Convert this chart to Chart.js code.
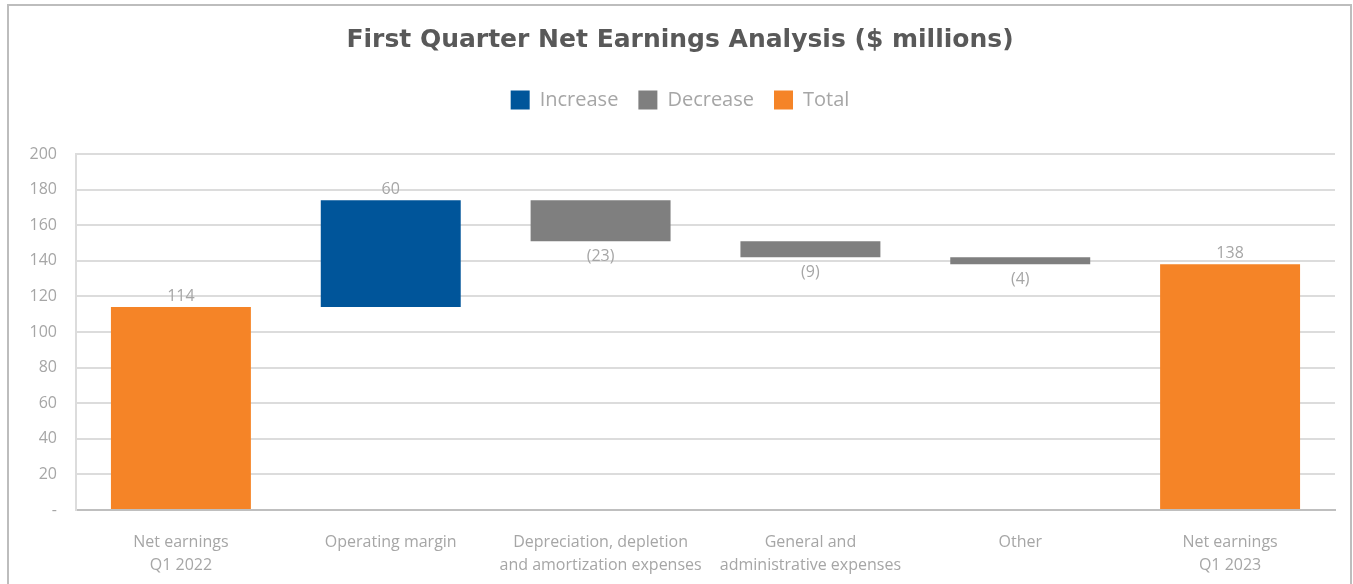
<!DOCTYPE html>
<html>
<head>
<meta charset="utf-8">
<script src="https://cdn.jsdelivr.net/npm/chart.js@4.4.1/dist/chart.umd.min.js"></script>
<style>
  html, body { margin: 0; padding: 0; background: #ffffff; overflow: hidden; }
  #wrap { position: relative; width: 1353px; height: 584px; }
  #frame { position: absolute; left: 7px; top: 4px; right: 1px; bottom: -10px;
           border: 2px solid #bdbdbd; pointer-events: none; }
  canvas { position: absolute; left: 0; top: 0; }
</style>
</head>
<body>
<div id="wrap">
  <canvas id="c" width="1353" height="584"></canvas>
  <div id="frame"></div>
</div>
<script>
// ---- data ----
const categories = [
  ["Net earnings", "Q1 2022"],
  ["Operating margin"],
  ["Depreciation, depletion", "and amortization expenses"],
  ["General and", "administrative expenses"],
  ["Other"],
  ["Net earnings", "Q1 2023"]
];
const changes = [114, 60, -23, -9, -4, 138];
const kinds = ["total", "increase", "decrease", "decrease", "decrease", "total"];
const yTicks = [0, 20, 40, 60, 80, 100, 120, 140, 160, 180, 200];
const seriesNames = ["Increase", "Decrease", "Total"];
const seriesColors = ["#00559a", "#7f7f7f", "#f58427"];

// ---- build floating ranges ----
const ranges = [];
let running = 0;
changes.forEach((v, i) => {
  if (kinds[i] === "total") { ranges.push([0, v]); running = v; }
  else { ranges.push([running, running + v]); running += v; }
});
const kindKey = { increase: 0, decrease: 1, total: 2 };
const datasets = seriesNames.map((name, s) => ({
  label: name,
  data: ranges.map((r, i) => kindKey[kinds[i]] === s ? r : null),
  backgroundColor: seriesColors[s],
  borderWidth: 0,
  grouped: false,
  categoryPercentage: 0.667,
  barPercentage: 1
}));

const FONT = "'Open Sans', 'Liberation Sans', sans-serif";
const LABEL_COLOR = "#a6a6a6";

const legendMargin = {
  id: "legendMargin",
  beforeInit(chart) {
    const orig = chart.legend.fit;
    chart.legend.fit = function () { orig.bind(chart.legend)(); this.height += 34; };
  }
};

const valueLabels = {
  id: "valueLabels",
  afterDatasetsDraw(chart) {
    const ctx = chart.ctx;
    ctx.save();
    ctx.font = "16px " + FONT;
    ctx.fillStyle = LABEL_COLOR;
    ctx.textAlign = "center";
    ctx.textBaseline = "middle";
    chart.data.datasets.forEach((ds, di) => {
      const meta = chart.getDatasetMeta(di);
      meta.data.forEach((el, i) => {
        if (ds.data[i] == null) return;
        const top = Math.min(el.y, el.base), bottom = Math.max(el.y, el.base);
        const v = changes[i];
        if (kinds[i] === "decrease") {
          ctx.fillText("(" + Math.abs(v) + ")", el.x, bottom + 15.5);
        } else {
          ctx.fillText(String(v), el.x, top - 11);
        }
      });
    });
    ctx.restore();
  }
};

new Chart(document.getElementById("c"), {
  type: "bar",
  data: { labels: categories, datasets },
  plugins: [legendMargin, valueLabels],
  options: {
    responsive: false,
    animation: false,
    layout: { padding: { top: 0, right: 18, bottom: 0, left: 25 } },
    plugins: {
      title: {
        display: true,
        text: "First Quarter Net Earnings Analysis ($ millions)",
        color: "#595959",
        font: { family: "'DejaVu Sans', sans-serif", size: 25, weight: "bold" },
        padding: { top: 25, bottom: 15 }
      },
      legend: {
        display: true,
        position: "top",
        labels: {
          color: LABEL_COLOR,
          font: { family: FONT, size: 20 },
          boxWidth: 19,
          boxHeight: 19,
          padding: 20
        }
      },
      tooltip: { enabled: false }
    },
    scales: {
      x: {
        afterFit(scale) { scale.height = 74; },
        grid: { display: false, drawTicks: false },
        border: { display: true, color: "#bfbfbf", width: 2 },
        ticks: {
          color: LABEL_COLOR,
          font: { family: FONT, size: 16, lineHeight: 1.45 },
          padding: 21,
          maxRotation: 0,
          autoSkip: false
        }
      },
      y: {
        min: 0,
        max: 200,
        afterFit(scale) { scale.width = 51; },
        afterBuildTicks(scale) { scale.ticks = yTicks.map(v => ({ value: v })); },
        grid: { color: "#dcdcdc", lineWidth: 2, drawTicks: false },
        border: { display: true, color: "#dcdcdc", width: 2 },
        ticks: {
          color: LABEL_COLOR,
          font: { family: FONT, size: 16 },
          padding: 19,
          callback: v => v === 0 ? "-" : String(v)
        }
      }
    }
  }
});
</script>
</body>
</html>
